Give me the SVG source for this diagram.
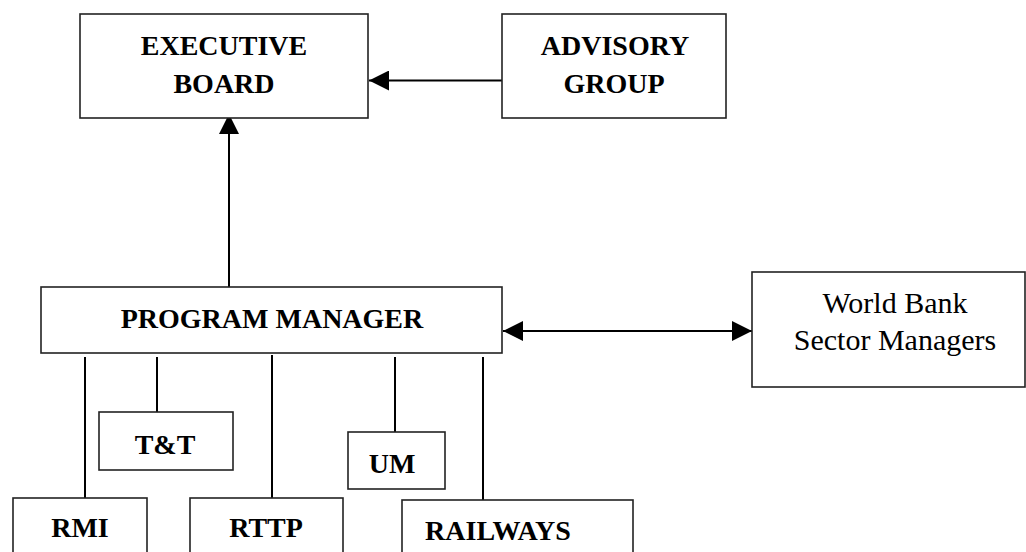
<svg xmlns="http://www.w3.org/2000/svg" width="1026" height="552" viewBox="0 0 1026 552">
<style>
.box{fill:#fff;stroke:#222;stroke-width:1.6}
.b{font-family:"Liberation Serif","Times New Roman",serif;font-weight:bold;font-size:28px;text-anchor:middle;fill:#000}
.r{font-family:"Liberation Serif","Times New Roman",serif;font-size:30px;text-anchor:middle;fill:#000}
.ln{stroke:#000;stroke-width:2;fill:none}
</style>
<defs>
<marker id="ah" viewBox="0 0 20 20" refX="20" refY="10" markerWidth="20" markerHeight="20" markerUnits="userSpaceOnUse" orient="auto-start-reverse">
<path d="M0,0 L20,10 L0,20 Z" fill="#000"/>
</marker>
</defs>
<rect width="1026" height="552" fill="#fff"/>
<g id="connectors">
<line class="ln" x1="502" y1="80.5" x2="369" y2="80.5" marker-end="url(#ah)"/>
<line class="ln" x1="229" y1="287" x2="229" y2="114" marker-end="url(#ah)"/>
<line class="ln" x1="503" y1="331" x2="752" y2="331" marker-start="url(#ah)" marker-end="url(#ah)"/>
<line class="ln" x1="85" y1="357" x2="85" y2="498"/>
<line class="ln" x1="157" y1="357" x2="157" y2="412"/>
<line class="ln" x1="272" y1="355" x2="272" y2="498"/>
<line class="ln" x1="395" y1="357" x2="395" y2="432"/>
<line class="ln" x1="483" y1="357" x2="483" y2="500"/>
</g>
<g id="executive-board">
<rect class="box" x="80" y="14" width="288" height="104"/>
<text class="b" x="224" y="55">EXECUTIVE</text>
<text class="b" x="224" y="93">BOARD</text>
</g>
<g id="advisory-group">
<rect class="box" x="502" y="14" width="224" height="104"/>
<text class="b" x="615" y="55">ADVISORY</text>
<text class="b" x="614" y="93">GROUP</text>
</g>
<g id="program-manager">
<rect class="box" x="41" y="287" width="461" height="66"/>
<text class="b" x="272" y="328">PROGRAM MANAGER</text>
</g>
<g id="world-bank">
<rect class="box" x="752" y="272" width="273" height="115"/>
<text class="r" x="895" y="313">World Bank</text>
<text class="r" x="895" y="350">Sector Managers</text>
</g>
<g id="tt">
<rect class="box" x="99" y="412" width="134" height="58"/>
<text class="b" x="165" y="454">T&amp;T</text>
</g>
<g id="um">
<rect class="box" x="348" y="432" width="97" height="57"/>
<text class="b" x="392" y="473">UM</text>
</g>
<g id="rmi">
<rect class="box" x="13" y="498" width="134" height="70"/>
<text class="b" x="80" y="537">RMI</text>
</g>
<g id="rttp">
<rect class="box" x="190" y="498" width="153" height="70"/>
<text class="b" x="266" y="537">RTTP</text>
</g>
<g id="railways">
<rect class="box" x="402" y="500" width="231" height="70"/>
<text class="b" x="498" y="540">RAILWAYS</text>
</g>
</svg>
